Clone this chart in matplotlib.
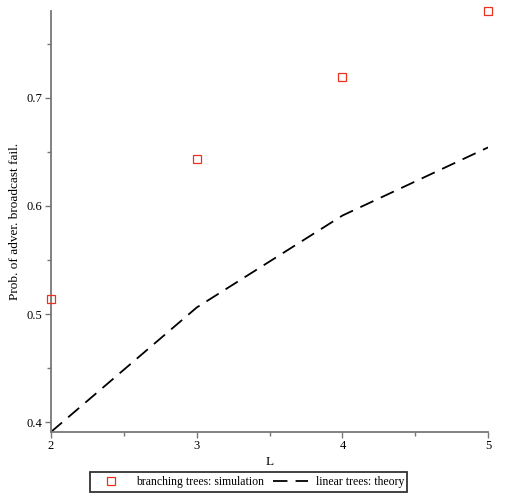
import matplotlib
matplotlib.use("Agg")
import matplotlib.pyplot as plt
from matplotlib.ticker import MultipleLocator

# data
L_sim = [2, 3, 4, 5]
p_sim = [0.514, 0.643, 0.719, 0.780]
L_theory = [2, 3, 4, 5]
p_theory = [0.391, 0.506, 0.591, 0.654]

plt.rcParams['font.family'] = ['Liberation Serif', 'DejaVu Serif']
plt.rcParams['font.size'] = 8.5

fig = plt.figure(figsize=(5.1, 5.04), dpi=100)
ax = fig.add_axes([0.1, 0.143, 0.857, 0.835])

ax.plot(L_sim, p_sim, linestyle='none', marker='s', markersize=5.5,
        markerfacecolor='none', markeredgecolor='#e8321e', markeredgewidth=0.9,
        label='branching trees: simulation', clip_on=False, zorder=5)
ax.plot(L_theory, p_theory, color='black', linewidth=1.3, dashes=(8, 4.5),
        label='linear trees: theory')

ax.set_xlim(2, 5)
ax.set_ylim(0.391, 0.780)
ax.xaxis.set_major_locator(MultipleLocator(1))
ax.xaxis.set_minor_locator(MultipleLocator(0.5))
ax.yaxis.set_major_locator(MultipleLocator(0.1))
ax.yaxis.set_minor_locator(MultipleLocator(0.05))

for s in ['top', 'right']:
    ax.spines[s].set_visible(False)
for s in ['left', 'bottom']:
    ax.spines[s].set_color('#777777')
    ax.spines[s].set_linewidth(1.3)
ax.tick_params(which='major', length=4, width=1, color='#777777', pad=2, labelsize=9)
ax.tick_params(which='minor', length=3, width=1, color='#777777')

ax.set_xlabel('L', labelpad=3, fontsize=9.5)
ax.set_ylabel('Prob. of adver. broadcast fail.', labelpad=4, fontsize=9.5)

leg = fig.legend(loc='center', bbox_to_anchor=(248.5/510, 1 - 482/504), ncol=2,
                 frameon=True, fancybox=False, handlelength=3.0, columnspacing=0.8,
                 handletextpad=0.6, borderpad=0.3)
leg.get_frame().set_edgecolor('black')
leg.get_frame().set_linewidth(1.3)

fig.savefig('out.png', dpi=100)
